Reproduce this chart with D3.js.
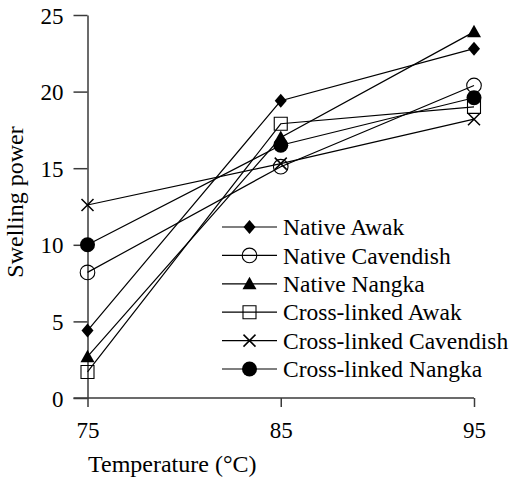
<!DOCTYPE html>
<html><head><meta charset="utf-8">
<script src="https://cdn.jsdelivr.net/npm/d3@7"></script>
<style>
body{margin:0;background:#fff;}
svg{display:block;}
svg text{font-family:'Liberation Serif','Times New Roman',Times,serif;fill:#000;}
</style></head>
<body><svg id="c" width="514" height="478"></svg>
<script>
const temperatures = [75, 85, 95];
const seriesNames = ["Native Awak","Native Cavendish","Native Nangka","Cross-linked Awak","Cross-linked Cavendish","Cross-linked Nangka"];
const nativeAwak = [4.4, 19.4, 22.8];
const nativeCavendish = [8.2, 15.1, 20.4];
const nativeNangka = [2.7, 17.0, 23.9];
const crossAwak = [1.7, 17.9, 19.0];
const crossCavendish = [12.6, 15.3, 18.2];
const crossNangka = [10.0, 16.5, 19.6];
const yTicks = [0, 5, 10, 15, 20, 25];
const xTicks = [75, 85, 95];
const markerKinds = ["diamond","circleOpen","triangle","squareOpen","cross","circleFilled"];

const seriesValues = [nativeAwak, nativeCavendish, nativeNangka, crossAwak, crossCavendish, crossNangka];
const FONT = "'Liberation Serif','Times New Roman',Times,serif";

const svg = d3.select("#c");
const x = d3.scaleLinear().domain([75, 95]).range([87.5, 474]);
const y = d3.scaleLinear().domain([0, 25]).range([398, 15]);

const axisColor = "#3a3a3a";
const gx = svg.append("g").attr("transform", `translate(0,${y(0)})`)
  .call(d3.axisBottom(x).tickValues(xTicks).tickSize(9).tickSizeOuter(0).tickFormat(d3.format("d")));
const gy = svg.append("g").attr("transform", `translate(${x(75)},0)`)
  .call(d3.axisLeft(y).tickValues(yTicks).tickSize(14).tickSizeOuter(0).tickFormat(d3.format("d")));
[gx, gy].forEach(g => {
  g.attr("font-family", null).style("font-family", FONT);
  g.select(".domain").attr("stroke", axisColor).attr("stroke-width", 1.5);
  g.selectAll(".tick line").attr("stroke", axisColor).attr("stroke-width", 1.5);
  g.selectAll("text").style("font-family", FONT).attr("font-size", 23).attr("fill", "#000");
});
gx.select(".domain").attr("d", `M${x(75)-14},0H${x(95)}`);
gx.selectAll(".tick text").attr("y", 40).attr("dy", 0);
gy.selectAll(".tick text").attr("x", -24).attr("dy", "0.35em");

svg.append("text").attr("x", 88).attr("y", 472).attr("font-size", 24).style("font-family", FONT).text("Temperature (°C)");
svg.append("text").attr("transform", "translate(23,202) rotate(-90)").attr("text-anchor", "middle")
  .attr("font-size", 24).style("font-family", FONT).text("Swelling power");

const symTypes = {
  diamond: {draw(p){p.moveTo(0,-7);p.lineTo(6,0);p.lineTo(0,7);p.lineTo(-6,0);p.closePath();}},
  circleOpen: {draw(p){p.moveTo(7.3,0);p.arc(0,0,7.3,0,2*Math.PI);}},
  triangle: {draw(p){p.moveTo(0,-7);p.lineTo(7,5.5);p.lineTo(-7,5.5);p.closePath();}},
  squareOpen: {draw(p){p.rect(-6.5,-6.5,13,13);}},
  cross: {draw(p){p.moveTo(-6,-6);p.lineTo(6,6);p.moveTo(6,-6);p.lineTo(-6,6);}},
  circleFilled: {draw(p){p.moveTo(7.5,0);p.arc(0,0,7.5,0,2*Math.PI);}}
};
const symStyle = {
  diamond: {fill:"#000", stroke:"none", sw:0},
  circleOpen: {fill:"none", stroke:"#000", sw:1.1},
  triangle: {fill:"#000", stroke:"none", sw:0},
  squareOpen: {fill:"none", stroke:"#000", sw:1.1},
  cross: {fill:"none", stroke:"#000", sw:1.5},
  circleFilled: {fill:"#000", stroke:"none", sw:0}
};
function drawMarker(g, kind, cx, cy){
  const st = symStyle[kind];
  g.append("path").attr("d", d3.symbol(symTypes[kind])())
    .attr("transform", `translate(${cx},${cy})`)
    .attr("fill", st.fill).attr("stroke", st.stroke).attr("stroke-width", st.sw);
}

const line = d3.line().x((d,i) => x(temperatures[i])).y(d => y(d));
const plot = svg.append("g");
seriesValues.forEach(vals => {
  plot.append("path").attr("d", line(vals)).attr("fill", "none").attr("stroke", "#000").attr("stroke-width", 1.2);
});
seriesValues.forEach((vals, si) => {
  vals.forEach((v, i) => drawMarker(plot, markerKinds[si], x(temperatures[i]), y(v)));
});

const legY = d3.scalePoint().domain(seriesNames).range([227, 369]);
const leg = svg.append("g");
seriesNames.forEach((name, si) => {
  const cy = legY(name);
  leg.append("line").attr("x1", 222).attr("x2", 277).attr("y1", cy).attr("y2", cy).attr("stroke", "#000").attr("stroke-width", 1.2);
  drawMarker(leg, markerKinds[si], 249.5, cy);
  leg.append("text").attr("x", 283).attr("y", cy).attr("dy", "0.35em").attr("font-size", 23.5).style("font-family", FONT).text(name);
});
</script></body></html>
